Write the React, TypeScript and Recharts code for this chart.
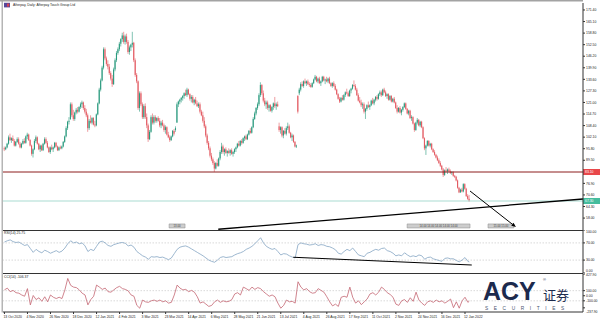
import React from 'react';
import { ComposedChart, Bar, Line, XAxis, YAxis, ReferenceLine, ReferenceArea } from 'recharts';

const FONT = '"Liberation Sans", Arial, sans-serif';

// ---------- DATA ----------
// daily candles [open, high, low, close]
const ohlc: number[][] = [
  [96,97,94.5,95.5],[95.5,97,95,96.5],[96.5,99,96,98.5],[98.5,103,98,102],[102,104,100,100.5],[100.5,102,99,101.5],
  [101.5,103,100,100],[100,101,97,97.5],[97.5,100,97,99.5],[99.5,102,99,101],[101,102,98,98.5],[98.5,99.5,96,96.5],
  [96.5,99,96,98.5],[98.5,101,98,100],[100,101.5,98.5,99],[99,103,98.5,102.5],[102.5,104.5,101,103.5],[103.5,104,100,100.5],
  [100.5,101,97,97.5],[97.5,98,92,93],[93,96,91,95.5],[95.5,101,95,100],[100,103,99,102],[102,102.5,98,98.5],
  [98.5,99,95,95.5],[95.5,98,94,97.5],[97.5,98,94.5,95],[95,99,94.5,98.5],[98.5,102,98,101],[101,102,98.5,99],
  [99,100,96,96.5],[96.5,97,93.5,94],[94,97,93,96.5],[96.5,98,95,95.5],[95.5,97,94,96.5],[96.5,99.5,96,99],
  [99,99.5,96.5,97],[97,97.5,94.5,95],[95,97,94.5,96.5],[96.5,97.5,95.5,96],[96,97.5,95.5,97],[97,100,96.5,99.5],
  [99.5,103,99,102.5],[102.5,108,102,107],[107,111,106,110.5],[110.5,113,109,111],[112,121,111.5,120],[120,121,113,114],
  [114,117,111,112],[112,116,111,115.5],[115.5,118,114.5,117],[117,118.5,115,116],[116,119,115.5,118.5],[118.5,121,117.5,120],
  [120,122,118,121],[121,121.5,117,118],[118,119.5,115,116],[116,117.5,113,114],[114,115,105,107],[107,112,106,111],
  [111,114,109.5,110],[110,113,109,112.5],[112.5,113,108.5,109],[109,111,107.5,108.5],[108.5,115,108,114.5],[114.5,121,114,120.5],
  [120.5,129,120,128],[128,134,127,133],[133,141,132.5,140],[140,151,139,150],[150,151,144,145],[145,146,141,142],
  [142,144,139,140.5],[140.5,142,136,137],[137,138,133,134],[134,136,129.5,131],[131,140,130.5,139],[139,145,138,144],
  [144,149,143,148],[148,151,147,150],[150,154,149,153],[153,156,151.5,155.5],[155.5,159,154,157.5],[157.5,159.5,153,154],
  [154,158,152.5,157],[157,158.5,153,154],[154,155,147.5,148.5],[148.5,152,147,151],[151,153,149,152.5],[152.5,159.5,151,153.5],
  [153.5,154,143,144],[144,145,135,136],[136,137,131.5,132.5],[132.5,133,117,118],[118,127,116,126],[126,127,119,120],
  [120,121,112,113],[113,120,112,119],[119,120.5,112,113],[113,115,107,108.5],[108.5,109.5,99.5,101],[101,106,100.5,105],
  [105,114,104.5,113],[113,115,109,110],[110,114,109,113],[113,114,110,111],[111,113,110,112.5],[112.5,113.5,110.5,111],
  [111,112.5,107.5,108.5],[108.5,111,107,110],[110,111.5,108,108.5],[108.5,109.5,105,106],[106,108.5,104,107.5],[107.5,108,103,103.5],
  [103.5,105,101.5,102],[102,103,99.5,100.5],[100.5,103,100,102.5],[102.5,106,102,105.5],[105.5,106.5,103,104],[106,108,105,107],
  [110,121,110,120],[120,122,118.5,121.5],[121.5,123,120,122.5],[122.5,124,121,123.5],[123.5,125,122,124.5],[124.5,126.5,123,126],
  [126,128,124.5,125],[125,129,124,128],[128,128.5,125,125.5],[125.5,126,122,123],[123,125,121,124],[124,125,120.5,121],
  [121,123,119.5,122.5],[122.5,124,120,120.5],[120.5,122,118.5,119],[119,121,118,120],[120,121,115,116],[116,117,113.5,114],
  [114,116,110,111],[111,113,107,108],[108,109,102,103],[103,104,98,99],[99,100,95,96],[96,97,91,92],
  [92,93.5,89,90],[90,91,87,88],[88,89,83.2,85],[85,88.5,84.5,88],[88,90,86,86.5],[86.5,91,86,90.5],
  [90.5,95,89.5,94],[94,99,93,97],[97,98,93,94],[94,96,92,95.5],[95.5,96.5,93,93.5],[93.5,95,91.5,94.5],
  [94.5,96,93,93.5],[93.5,95.5,92,95],[95,96,92.5,93],[93,94.5,91.5,94],[94,96,93,95.5],[95.5,97,94,96.5],
  [96.5,99,96,98.5],[98.5,100,97,97.5],[97.5,100.5,97,100],[100,101,98,99],[99,102,98.5,101.5],[101.5,103,100,102.5],
  [102.5,103.5,100.5,101],[101,104,100.5,103.5],[103.5,106,103,105.5],[105.5,107,104,104.5],[104.5,108,104,107.5],[107.5,113,107,112],
  [112,116,111.5,115],[115,118.5,114,118],[118,121,117,120],[120,126,119,125],[125,132,124,130.5],[130.5,131,125,126],
  [126,127.5,121,122],[122,123.5,119,120],[120,122,117.5,121],[121,122,117,118],[118,120,116,119.5],[119.5,120,116,116.5],
  [116.5,119,115.5,118.5],[118.5,121,117,120.5],[120.5,124,118,119],[119,121,117,120],[120,121.5,118.5,119],[108,110,105,106],
  [106,108,104,107.5],[107.5,108,102,103],[103,106,101.5,105.5],[105.5,107,103.5,104],[104,108,103,107],[107,110,106,108],
  [108,109,104,104.5],[104.5,105,101.5,102],[102,104,100,103],[103,103.5,99,99.5],[99.5,100,96.5,97],[97,98,96.2,97.5],
  [124.5,125,115,116],[126,129,125,128],[128,132,127,131],[131,132.5,129.5,130],[130,133,129,132.5],[132.5,134,131,131.5],
  [131.5,133,130,132.5],[132.5,133.5,130.5,131],[131,132,129.5,130.5],[130.5,131.5,129,129.5],[129.5,132,129,131.5],[131.5,134,131,133.5],
  [133.5,136,133,135],[135,135.5,132,132.5],[132.5,134.5,131.5,134],[134,135,131,131.5],[131.5,133,130,132.5],[132.5,135.5,132,135],
  [135,135.5,132.5,133],[133,134,131,133.5],[133.5,135,132,132.5],[132.5,134.5,131.5,134],[134,135,131,131.5],[131.5,132,129.5,130],
  [130,132,129,131.5],[131.5,132.5,129.5,130],[130,131,127.5,128],[128,128.5,125,125.5],[125.5,126,122.5,123],[123,124,120.7,121.5],
  [121.5,124,121,123.5],[123.5,125,122,122.5],[122.5,125.5,122,125],[125,127,124,126.5],[126.5,128.5,125.5,126],[126,127,124,124.5],
  [124.5,128,124,127.5],[127.5,129,126,128.5],[128.5,131,128,130.5],[130.5,133,129.5,130],[130,131,127.5,128],[128,129,124.5,125],
  [125,126,121.5,122],[122,124,120.5,121],[121,122.5,118.5,119.5],[119.5,121,117.5,120],[120,121,115,116],[116,118,112,117.5],
  [117.5,120,116.5,119.5],[119.5,121.5,118,118.5],[118.5,120,117,119.5],[119.5,122.5,119,122],[122,123.5,120,120.5],[120.5,123,119.5,122.5],
  [122.5,124.5,121.5,124],[124,125,122,123],[123,126,122.5,125.5],[125.5,127.5,124.5,126.5],[126.5,127.5,124,125],[125,128.5,124.5,128],
  [128,129,126,126.5],[126.5,127.5,124,124.5],[124.5,126,123,125.5],[125.5,126,122,122.5],[122.5,125,122,124.5],[124.5,125,121,121.5],
  [121.5,123.5,121,123],[123,124,120.5,121],[121,121.5,117.5,118],[118,119.5,115,116],[116,118.5,115.5,118],[118,119,115,115.5],
  [115.5,117.5,114,117],[117,119,116,118.5],[118.5,121,118,120.5],[120.5,121,117,117.5],[117.5,118,114.5,115],[115,117,114,116.5],
  [116.5,117,112,112.5],[112.5,114,111,113],[113,113.5,109,109.5],[109.5,110,105,106],[106,110.5,105.5,110],[110,112.5,109,111.5],
  [111.5,112,108,108.5],[108.5,111,107.5,110.5],[110.5,111,107,107.5],[107.5,108,101,101.5],[101.5,102,95,96],[96,98,92.4,97.5],
  [97.5,100.5,97,100],[100,100.5,97,97.5],[97.5,99,96.5,98.5],[98.5,99,95,95.5],[95.5,96,93.5,94],[94,95,92,92.5],
  [92.5,93,90.5,91],[91,92,89,89.5],[89.5,90.5,87.5,88],[88,89,85.8,86.5],[86.5,87,84,84.5],[84.5,85.3,80.4,81.5],
  [81.5,84.5,81,84],[84,85.8,83,83.5],[83.5,85,82,84.5],[84.5,85.5,83,83.5],[83.5,84.5,82,82.5],[82.5,83.5,81.5,83],
  [83,83.5,80.5,81],[81,81.5,79.8,80.5],[80.5,81,78,78.5],[78.5,79,74,74.5],[74.5,75,71.6,72],[72,74,71.8,73.5],
  [73.5,74.5,72,72.5],[72.5,77,72,76.5],[76.5,77,73.5,74],[74,74.5,69.5,70],[70,71,68,68.5],[68.5,70.6,66.8,67.5],
];

// RSI(14), one reading every 2 bars, last reading on the final bar
const rsiValues = [
  72,75,77,73,71,72,68,64,66,57,48,55,50,47,53,50,46,49,52,48,51,58,68,75,70,72,68,70,63,50,
  55,52,62,72,74,70,64,62,66,68,70,71,69,63,65,60,50,45,40,37,32,38,37,38,36,37,34,31,35,45,
  55,60,62,63,60,56,52,48,44,40,35,30,27,25,30,36,38,36,37,38,42,45,47,50,55,58,62,68,75,82,
  70,62,58,55,57,50,42,45,44,40,37,35,66,70,68,67,65,66,68,64,66,65,62,61,58,54,46,44,50,55,
  52,58,50,42,40,38,46,48,52,55,53,57,58,52,50,46,40,42,40,47,42,38,40,38,42,40,32,36,37,33,
  31,29,27,34,35,33,33,29,26,30,36,27,25.75,
];

// CCI(14), one reading every 2 bars, last reading on the final bar
const cciValues = [
  115,150,80,105,60,50,15,-10,140,-180,5,-75,-40,-110,-20,-120,15,-30,-55,-30,-55,115,340,205,170,160,115,50,15,-180,
  -75,-10,210,170,125,150,80,70,115,160,185,140,125,95,15,-10,-190,-245,-85,-120,-130,-100,-85,-110,-85,-120,-100,-145,-130,15,
  210,150,115,125,80,105,70,-20,-145,-120,-165,-210,-190,-120,-85,-130,-100,-120,-110,-75,35,60,15,170,140,105,170,125,160,140,
  80,35,-10,15,-20,-145,-245,-190,-85,-120,-110,-145,275,170,115,140,80,50,60,140,105,70,-20,-120,-200,-165,-210,-30,
  -10,-30,170,-30,-145,-100,-175,-120,-65,35,60,15,70,170,125,60,25,-30,-165,-190,-100,-75,-130,-40,-110,70,-85,-145,
  -190,-120,-100,-130,-85,-120,-100,-145,-110,-65,-235,-120,-245,-100,-30,-130,-106.37,
];

const xTickBars = [0,16,32,48,64,80,96,112,128,144,160,176,192,208,224,240,256,272,288,304,320];
const xTickLabels = [
  '13 Oct 2020','4 Nov 2020','26 Nov 2020','18 Dec 2020','12 Jan 2021','4 Feb 2021','3 Mar 2021',
  '23 Mar 2021','14 Apr 2021','6 May 2021','28 May 2021','21 Jun 2021','13 Jul 2021','4 Aug 2021',
  '26 Aug 2021','17 Sep 2021','11 Oct 2021','2 Nov 2021','24 Nov 2021','16 Dec 2021','12 Jan 2022',
];
const priceTicks = [171.4,165.1,158.8,152.5,146.2,139.9,133.6,127.3,121.0,114.7,108.4,102.1,95.8,89.5,76.9,70.6,64.3,58.0];
const rsiTicks = [100,70,30,0];
const rsiLevels = [70,30];
const cciTicks = [427.9,100,0,-100,-237.9];
const cciLevels = [100,-100];

const supportLevel = 83.1;
const lastPrice = 67.3;
const trendLine = [{ x: 148.6, y: 51.9 }, { x: 402, y: 68.4 }];
const arrowLine = [{ x: 323.5, y: 72.75 }, { x: 355.4, y: 53.1 }];
const rsiTrend = [{ x: 200.7, y: 36.5 }, { x: 324.7, y: 18.6 }];
const markerBoxes = [
  { from: 114.4, to: 125.5, top: 54.8, bottom: 52.6, text: '13.00' },
  { from: 279.8, to: 323.5, top: 54.8, bottom: 52.6, text: '14.00 14.00 14.00 14.00 14.00' },
  { from: 336, to: 354, top: 54.8, bottom: 52.6, text: '15.00 15.00' },
];

// ---------- DERIVED TABLES ----------
const candles = ohlc.map(([o, h, l, c], i) => ({ i, o, h, l, c }));
const last = ohlc.length - 1;
const rsiData = rsiValues.map((v, k) => ({ i: Math.min(k * 2, last), v }));
const cciData = cciValues.map((v, k) => ({ i: Math.min(k * 2, last), v }));

const X_DOMAIN: [number, number] = [-1, 402];
const PRICE_DOMAIN: [number, number] = [51.5, 175.2];
const CCI_DOMAIN: [number, number] = [-320, 427.9];

const BULL = '#2a9a7e';
const BEAR = '#e35a62';
const AXIS = '#333';
const TXT = '#222';

const Candle = (props: any) => {
  const { x, y, width, height, payload } = props;
  if (!payload) return null;
  const { o, h, l, c } = payload;
  const top = Math.min(y, y + height);
  const bot = Math.max(y, y + height);
  const span = h - l || 1;
  const py = (v: number) => top + ((h - v) / span) * (bot - top);
  const cx = x + width / 2;
  const color = c >= o ? BULL : BEAR;
  const bt = py(Math.max(o, c));
  const bb = py(Math.min(o, c));
  return (
    <g>
      <line x1={cx} x2={cx} y1={top} y2={bot} stroke={color} strokeWidth={0.6} />
      <rect x={cx - 0.55} y={bt} width={1.1} height={Math.max(bb - bt, 0.7)} fill={color} />
    </g>
  );
};

const YTick = (props: any) => {
  const { x, y, payload, shift } = props;
  const v = payload.value;
  const dy = shift && shift[String(v)] !== undefined ? shift[String(v)] : 1.2;
  return (
    <text x={x} y={y + dy} fontSize={3.4} fill={TXT} fontFamily={FONT} textAnchor="start">
      {Number(v).toFixed(2)}
    </text>
  );
};

const XTick = (props: any) => {
  const { x, y, payload } = props;
  const k = xTickBars.indexOf(payload.value);
  return (
    <text x={x - 1} y={y + 3} fontSize={3.4} fill={TXT} fontFamily={FONT} textAnchor="start">
      {xTickLabels[k]}
    </text>
  );
};

const PriceTag = (props: any) => {
  const { viewBox, fill, text } = props;
  if (!viewBox) return null;
  const x = viewBox.x + viewBox.width;
  const y = viewBox.y;
  return (
    <g>
      <rect x={x} y={y - 3} width={17} height={6} fill={fill} />
      <text x={x + 2} y={y + 1.2} fontSize={3.4} fill="#fff" fontFamily={FONT}>{text}</text>
    </g>
  );
};

const ArrowShape = (p: any) => {
  const { x1, y1, x2, y2 } = p;
  const ang = Math.atan2(y2 - y1, x2 - x1);
  const L = 4.5, Wd = 1.8;
  const bx = x2 - L * Math.cos(ang), by = y2 - L * Math.sin(ang);
  const px = -Math.sin(ang) * Wd, py = Math.cos(ang) * Wd;
  return (
    <g>
      <line x1={x1} y1={y1} x2={bx} y2={by} stroke="#000" strokeWidth={1} />
      <polygon points={`${x2},${y2} ${bx + px},${by + py} ${bx - px},${by - py}`} fill="#000" />
    </g>
  );
};

const rsiShift: Record<string, number> = { '100': 3.2, '0': -0.8 };
const cciShift: Record<string, number> = { '427.9': 2.2, '-237.9': 5.6 };

export default function App() {
  return (
    <div style={{ position: 'fixed', left: 0, top: 0, width: 600, height: 323, background: '#fff', overflow: 'hidden' }}>
      {/* main price panel */}
      <div style={{ position: 'absolute', left: 0, top: 0 }}>
        <ComposedChart width={600} height={231} data={candles} margin={{ top: 3, right: 0, bottom: 1, left: 3 }}>
          <XAxis type="number" dataKey="i" domain={X_DOMAIN} hide allowDataOverflow />
          <YAxis orientation="right" width={17} type="number" domain={PRICE_DOMAIN} ticks={priceTicks} interval={0}
            allowDataOverflow tickSize={2} tickMargin={1} axisLine={{ stroke: AXIS }} tickLine={{ stroke: AXIS }}
            tick={(p: any) => <YTick {...p} />} />
          <ReferenceLine y={supportLevel} stroke="#8c1c1c" strokeWidth={1} ifOverflow="visible"
            label={<PriceTag fill="#e8474a" text={supportLevel.toFixed(2)} />} />
          <ReferenceLine y={lastPrice} stroke="#a9dbd1" strokeWidth={1} ifOverflow="visible"
            label={<PriceTag fill="#45bd9e" text={lastPrice.toFixed(2)} />} />
          {markerBoxes.map((b, k) => (
            <ReferenceArea key={k} x1={b.from} x2={b.to} y1={b.bottom} y2={b.top} fill="#cdcdcd" fillOpacity={1}
              stroke="#8a8a8a" strokeWidth={0.5} ifOverflow="visible"
              label={{ value: b.text, fontSize: 2.8, fill: '#444', position: 'center', fontFamily: FONT }} />
          ))}
          <Bar dataKey={(d: any) => [d.l, d.h]} shape={Candle} isAnimationActive={false} barSize={1} />
          <ReferenceLine segment={trendLine} stroke="#000" strokeWidth={1.3} ifOverflow="visible" />
          <ReferenceLine segment={arrowLine} ifOverflow="visible" shape={ArrowShape} />
        </ComposedChart>
      </div>

      {/* RSI panel */}
      <div style={{ position: 'absolute', left: 0, top: 230 }}>
        <ComposedChart width={600} height={43} data={rsiData} margin={{ top: 0, right: 0, bottom: 0, left: 3 }}>
          <XAxis type="number" dataKey="i" domain={X_DOMAIN} hide allowDataOverflow />
          <YAxis orientation="right" width={17} type="number" domain={[0, 100]} ticks={rsiTicks} interval={0}
            allowDataOverflow tickSize={2} tickMargin={1} axisLine={{ stroke: AXIS }} tickLine={{ stroke: AXIS }}
            tick={(p: any) => <YTick {...p} shift={rsiShift} />} />
          {rsiLevels.map((v) => (
            <ReferenceLine key={v} y={v} stroke="#c9c9c9" strokeWidth={0.7} strokeDasharray="1.5 1.5" />
          ))}
          <Line type="linear" dataKey="v" stroke="#84a5c3" strokeWidth={0.8} dot={false} isAnimationActive={false} />
          <ReferenceLine segment={rsiTrend} stroke="#000" strokeWidth={1.1} ifOverflow="visible" />
        </ComposedChart>
      </div>

      {/* CCI panel */}
      <div style={{ position: 'absolute', left: 0, top: 273 }}>
        <ComposedChart width={600} height={50} data={cciData} margin={{ top: 1, right: 0, bottom: 0, left: 3 }}>
          <XAxis type="number" dataKey="i" domain={X_DOMAIN} ticks={xTickBars} interval={0} allowDataOverflow
            height={11} tickSize={2} tickMargin={1} axisLine={{ stroke: AXIS }} tickLine={{ stroke: AXIS }}
            tick={(p: any) => <XTick {...p} />} />
          <YAxis orientation="right" width={17} type="number" domain={CCI_DOMAIN} ticks={cciTicks} interval={0}
            allowDataOverflow tickSize={2} tickMargin={1} axisLine={{ stroke: AXIS }} tickLine={{ stroke: AXIS }}
            tick={(p: any) => <YTick {...p} shift={cciShift} />} />
          {cciLevels.map((v) => (
            <ReferenceLine key={v} y={v} stroke="#c9c9c9" strokeWidth={0.7} strokeDasharray="1.5 1.5" />
          ))}
          <Line type="linear" dataKey="v" stroke="#c46672" strokeWidth={0.8} dot={false} isAnimationActive={false} />
        </ComposedChart>
      </div>

      {/* frame, titles, watermark */}
      <svg width={600} height={323} style={{ position: 'absolute', left: 0, top: 0, pointerEvents: 'none' }}>
        <rect x={0} y={0} width={583} height={1.5} fill="#a3a3a3" />
        <rect x={1.6} y={0} width={1.2} height={312.5} fill="#a3a3a3" />
        <line x1={3} x2={583} y1={230.5} y2={230.5} stroke="#333" strokeWidth={1} />
        <line x1={3} x2={583} y1={273.5} y2={273.5} stroke="#333" strokeWidth={1} />
        <rect x={4} y={2.8} width={6} height={4.6} fill="#55489a" />
        <rect x={7} y={3.6} width={2.2} height={3} fill="#d8424f" />
        <text x={13} y={6.3} fontSize={3.4} fill={TXT} fontFamily={FONT}>Afterpay, Daily: Afterpay Touch Group Ltd</text>
        <text x={4} y={234.3} fontSize={3.4} fill={TXT} fontFamily={FONT}>RSI(14) 25.75</text>
        <text x={4} y={278} fontSize={3.4} fill={TXT} fontFamily={FONT}>CCI(14) -106.37</text>
        <text x={483} y={300} fontSize={25} fontWeight={700} fill="#1c2a4d" fontFamily={FONT}>ACY</text>
        <text x={543} y={281} fontSize={4} fill="#1c2a4d" fontFamily={FONT}>®</text>
        <text x={543} y={299.5} fontSize={13} fill="#1c2a4d" fontFamily={'"Noto Sans CJK SC", sans-serif'}>证券</text>
        <text x={485} y={310} fontSize={4.8} letterSpacing={5.6} fill="#4a5570" fontFamily={FONT}>SECURITIES</text>
      </svg>
    </div>
  );
}
